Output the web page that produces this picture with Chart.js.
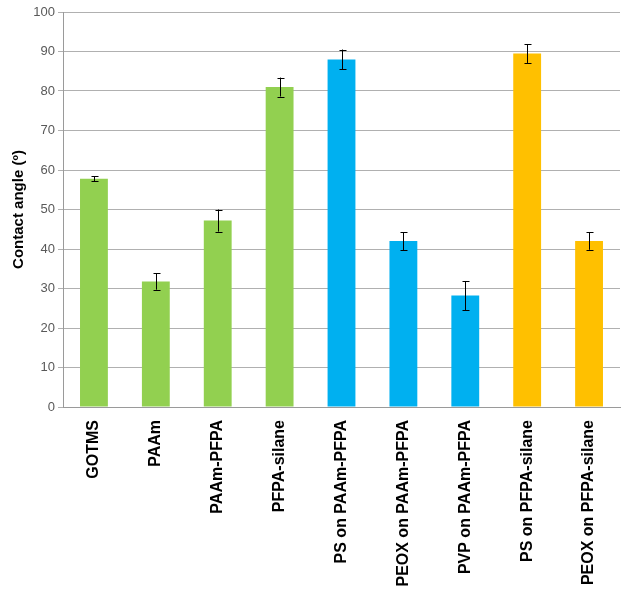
<!DOCTYPE html>
<html>
<head>
<meta charset="utf-8">
<script src="https://cdn.jsdelivr.net/npm/chart.js@4/dist/chart.umd.min.js"></script>
<style>
html,body{margin:0;padding:0;background:#fff;}
#wrap{width:629px;height:593px;position:relative;}
</style>
</head>
<body>
<div id="wrap"><canvas id="c" width="629" height="593"></canvas></div>
<script>
const categories = ["GOTMS","PAAm","PAAm-PFPA","PFPA-silane","PS on PAAm-PFPA","PEOX on PAAm-PFPA","PVP on PAAm-PFPA","PS on PFPA-silane","PEOX on PFPA-silane"];
const contactAngle = [57.8, 31.8, 47.2, 81.0, 88.0, 42.0, 28.2, 89.5, 42.0];
const errorValues = [0.6, 2.1, 2.8, 2.4, 2.5, 2.3, 3.7, 2.4, 2.2];
const barColors = ["#92D050","#92D050","#92D050","#92D050","#00B0F0","#00B0F0","#00B0F0","#FFC000","#FFC000"];
const yTicks = [0,10,20,30,40,50,60,70,80,90,100];
const yTitle = "Contact angle (º)";

const errorBarPlugin = {
  id: 'errorBars',
  afterDatasetsDraw(chart) {
    const ctx = chart.ctx;
    const meta = chart.getDatasetMeta(0);
    const y = chart.scales.y;
    ctx.save();
    ctx.strokeStyle = '#000';
    ctx.lineWidth = 1;
    meta.data.forEach((bar, i) => {
      const v = contactAngle[i], e = errorValues[i];
      const x = Math.round(bar.x) + 0.5;
      const yTop = y.getPixelForValue(v + e);
      const yBot = y.getPixelForValue(v - e);
      ctx.beginPath();
      ctx.moveTo(x, yTop); ctx.lineTo(x, yBot);
      ctx.moveTo(x - 3, Math.round(yTop) + 0.5); ctx.lineTo(x + 4, Math.round(yTop) + 0.5);
      ctx.moveTo(x - 3, Math.round(yBot) + 0.5); ctx.lineTo(x + 4, Math.round(yBot) + 0.5);
      ctx.stroke();
    });
    ctx.restore();
  }
};

new Chart(document.getElementById('c'), {
  type: 'bar',
  data: {
    labels: categories,
    datasets: [{
      data: contactAngle,
      backgroundColor: barColors,
      borderWidth: 0,
      barPercentage: 0.45,
      categoryPercentage: 1.0
    }]
  },
  options: {
    responsive: false,
    animation: false,
    devicePixelRatio: 1,
    layout: { padding: { top: 12, right: 9, left: 0, bottom: 0 } },
    plugins: { legend: { display: false }, tooltip: { enabled: false } },
    scales: {
      x: {
        grid: { display: false },
        border: { display: true, color: '#9a9a9a', width: 1 },
        ticks: {
          color: '#000',
          font: { family: 'Liberation Sans, Arial, sans-serif', size: 16, weight: 'bold' },
          minRotation: 90, maxRotation: 90,
          autoSkip: false,
          padding: 5
        },
        afterFit(scale) { scale.height = 186; }
      },
      y: {
        min: 0, max: 100,
        afterBuildTicks(scale) { scale.ticks = yTicks.map(v => ({ value: v })); },
        grid: { color: '#b0b0b0', lineWidth: 1, tickLength: 5 },
        border: { display: true, color: '#9a9a9a', width: 1 },
        ticks: {
          color: '#595959',
          font: { family: 'Liberation Sans, Arial, sans-serif', size: 13 },
          padding: 3
        },
        title: {
          display: true,
          text: yTitle,
          color: '#000',
          font: { family: 'Liberation Sans, Arial, sans-serif', size: 15, weight: 'bold' },
          padding: { top: 10, bottom: 0 }
        },
        afterFit(scale) { scale.width = 63; }
      }
    }
  },
  plugins: [errorBarPlugin]
});
</script>
</body>
</html>
